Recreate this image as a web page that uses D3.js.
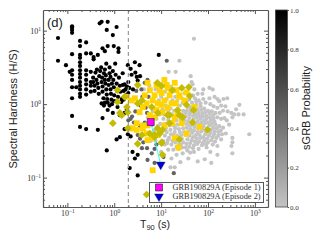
<!DOCTYPE html>
<html>
<head>
<meta charset="utf-8">
<script src="https://cdnjs.cloudflare.com/ajax/libs/d3/7.8.5/d3.min.js"></script>
<style>
html, body { margin: 0; padding: 0; background: white; overflow: hidden; }
svg { display: block; }
.tick line, .domain { stroke: #555; }
</style>
</head>
<body>
<svg width="320" height="240"></svg>
<script>
// values, as [log10 T90, log10 hardness]
var shortBursts = [
  [-1.2,.9],[-1.2,.59],[-.9,1.06],[-.9,1.04],[-.9,1.01],[-.9,.97],[-.73,.86],[-.73,.79],[-.6,.84],[-.9,.68],[-1.03,.53],
  [-.31,1.1],[-.27,1.12],[-.14,1.12],[-.16,1.01],[.05,1.05],[-.03,.94],[-.14,.79],[-.01,.79],[.09,.76],[.09,.71],[-.25,.76],[-.2,.72],
  [-.6,.69],[-.5,.69],[-.35,.67],[-.44,.64],[-.44,.61],[-.73,.67],[-.73,.63],[-.73,.57],[-.73,.52],[-.73,.46],[-.73,.41],
  [-.95,.44],[-.9,.46],[-.9,.4],[-.9,.33],[-.9,.23],[-.9,.08],[-.9,-.16],
  [-.6,.46],[-.6,.4],[-.6,.33],[-.6,.27],[-.6,.2],[-.6,.13],[-.73,.36],[-.73,.3],[-.73,.25],[-.73,.2],[-.73,.14],[-.73,.1],[-.81,.23],
  [-.5,.44],[-.5,.3],[-.5,.25],[-.5,.17],[-.45,.36],[-.45,.3],[-.42,.25],[-.42,.18],[-.4,.43],[-.37,.47],[-.38,.33],[-.36,.28],[-.34,.22],[-.33,.14],
  [-.32,.38],[-.3,.45],[-.28,.5],[-.27,.3],[-.26,.36],[-.25,.24],[-.25,.17],[-.23,.08],[-.22,.42],[-.2,.47],[-.2,.33],[-.19,.28],[-.18,.39],[-.17,.55],[-.17,.2],
  [-.16,.13],[-.15,.07],[-.14,.02],[-.12,.33],[-.12,.26],[-.1,.42],[-.1,.5],[-.08,.37],[-.08,.2],[-.07,.14],[-.06,.06],[-.05,0],[-.05,.28],[-.03,.45],[-.02,.33],
  [-.01,.23],[0,.12],[0,.04],[.02,.55],[.03,.4],[.05,.28],[.06,.18],[.07,-.04],[.08,.1],[.1,.36],[.12,.25],[.13,.17],[.15,.03],[.16,.07],
  [.18,.26],[.2,.18],[.22,.27],[.24,.2],[.25,.12],[.27,.24],[.3,.3],[.3,.15],[.32,.22],[.35,.05],[.37,.4],[.4,.2],[.45,.43],[.5,.32],[.55,.38],
  [.44,.57],[.29,.53],[.54,.53],[.18,.42],[.35,.48],[.48,.37],[.95,.67],[-.25,-.19],[-.14,-.08],[-.03,-.12],[.12,-.15],[.22,-.12],[-.2,.02],[-.1,-.02],[-.27,.01],[-.22,-.02],
  [-.73,-.31],[-.6,-.34],[-.35,-.35],[-.16,-.63],[.05,-.48],[.12,-.45],[.22,-.34],[.33,-.87],[.5,-.97],[.39,-.65],[.5,-.69],[.44,-.74],[.29,-.41],[.35,-.44],[.27,-.07],[.2,.06]
];
var midBursts = [
  [.65,.29],[.71,.33],[1.12,.59],[.58,.2],[.6,.1],[.47,.18],[.56,-.02],[.45,-.1],[.38,-.17],[.35,-.2],[.42,-.25],[.3,-.22],[.5,-.42],[.55,-.47],[.62,-.52],
  [.7,-.6],[.59,-.6],[.71,-.76],[.86,-.8],[.8,-.67],[.86,-.61],[.65,-.25],[.7,-.12],[.8,-.28],[.9,-.55],[1.27,-.94],[.73,.1],[.67,-.05],[.75,-.4],[.55,-.3],[1.05,-.72]
];
var longBursts = [
  [1.7,.89],[1.39,.59],[1.16,.44],[1.31,.44],[1.63,.38],[1.65,.3],[1.67,.27],[1.71,.2],[1.9,.2],[2.03,.22],[2.1,.2],[1.78,.14],[1.88,.14],[2.03,.08],[2.14,.1],[2.2,.07],[2.24,.04],
  [2.33,.07],[2.41,.08],[2.37,-.03],[2.67,-.01],[2.6,-.07],[2.5,-.12],[2.56,-.14],[2.65,-.14],[2.76,-.14],[2.35,-.19],[2.52,-.18],
  [2.88,-.41],[2.52,-.46],[2.5,-.57],[2.52,-.52],[2.52,-.67],[2.2,-.57],[2.2,-.69],[2.05,-.65],[2.07,-.8],[1.93,-.75],[1.78,-.78],[1.97,-.59],[1.8,-.61],[1.58,-.74],[1.41,-.79],
  [1.29,-.86],[1.2,-.86],[1.33,-.69],[1.22,-.74],[1.46,-.67],[1.56,-.63],[1.15,-.62],[1.08,-.55],[1,-.65],
  [1.6,.12],[1.72,.08],[1.8,.05],[1.9,.07],[1.95,.02],[2.05,0],[2.12,-.03],[2.2,-.05],[2.28,-.02],[1.66,.02],[1.75,-.01],[1.84,-.03],[1.92,-.06],[2,-.09],[2.08,-.1],[2.16,-.12],[2.25,-.12],[2.32,-.09],[2.42,-.1],
  [1.58,-.04],[1.64,-.08],[1.72,-.1],[1.8,-.12],[1.88,-.13],[1.96,-.16],[2.04,-.18],[2.12,-.2],[2.2,-.18],[2.28,-.2],[2.4,-.22],[2.45,-.28],
  [1.1,-.02],[1.2,-.06],[1.28,-.09],[1.4,-.02],[1.47,-.09],[1.52,-.12],[1.6,-.14],[1.68,-.16],[1.76,-.18],[1.84,-.2],[1.92,-.22],[2,-.25],[2.08,-.27],[2.16,-.28],[2.24,-.3],[2.32,-.32],
  [1.05,-.2],[1.15,-.22],[1.25,-.24],[1.33,-.22],[1.42,-.2],[1.5,-.22],[1.58,-.23],[1.66,-.25],[1.74,-.27],[1.82,-.28],[1.9,-.3],[1.98,-.33],[2.06,-.35],[2.14,-.37],[2.22,-.38],[2.3,-.41],[2.38,-.4],
  [.98,-.27],[1.1,-.33],[1.2,-.35],[1.3,-.33],[1.38,-.34],[1.47,-.33],[1.55,-.32],[1.63,-.34],[1.7,-.36],[1.78,-.38],[1.86,-.37],[1.94,-.41],[2.02,-.43],[2.1,-.45],[2.18,-.46],[2.28,-.48],
  [.95,-.42],[1.08,-.43],[1.17,-.46],[1.26,-.42],[1.34,-.43],[1.43,-.42],[1.52,-.42],[1.6,-.43],[1.68,-.45],[1.76,-.47],[1.84,-.46],[1.92,-.5],[2,-.52],[2.1,-.55],
  [1.04,-.5],[1.13,-.53],[1.22,-.55],[1.3,-.52],[1.38,-.55],[1.47,-.52],[1.54,-.54],[1.62,-.53],[1.7,-.56],[1.77,-.54],[1.87,-.56],
  [1.26,-.62],[1.37,-.61],[1.45,-.59],[1.62,-.66],[1.7,-.65],
  [.72,-.18],[.82,-.1],[.9,-.2],[.95,.05],[1,.1],[1.08,.17],[1.2,.24],[1.3,.1],[1.44,.08],[1.5,.15],[.85,-.36],[.97,-.14],[.78,-.5],[.88,.2],[.63,.2],[.75,.25],
  [1.62,-.04],[1.7,-.05],[1.78,-.07],[1.86,-.08],[1.94,-.11],[2.03,-.13],[2.11,-.15],[1.55,-.09],[1.63,-.11],[1.73,-.14],[1.81,-.16],[1.89,-.17],[1.97,-.2],[2.06,-.22],[2.14,-.24],
  [1.52,-.17],[1.6,-.19],[1.69,-.21],[1.78,-.23],[1.86,-.25],[1.94,-.26],[2.03,-.29],[2.11,-.32],[2.19,-.33],[2.27,-.36],[1.46,-.26],[1.55,-.27],[1.62,-.29],[1.71,-.31],[1.79,-.33],
  [1.88,-.34],[1.96,-.37],[2.05,-.39],[2.13,-.41],[2.22,-.43],[1.4,-.38],[1.49,-.38],[1.58,-.37],[1.66,-.39],[1.74,-.42],[1.82,-.42],[1.9,-.45],[1.98,-.47],[2.07,-.49],[2.15,-.51],
  [1.12,-.38],[1.21,-.41],[1.29,-.38],[1.36,-.49],[1.44,-.47],[1.56,-.48],[1.65,-.49],[1.72,-.51],[1.81,-.51],[1.89,-.53],[1.96,-.55],[1.08,-.27],[1.18,-.29],[1.27,-.29],[1.35,-.28],
  [1.03,-.07],[1.15,-.11],[1.23,-.14],[1.32,-.16],[1.44,-.14],[1.06,-.14],[.93,-.3],[.88,-.5],[1.01,-.36],[1.14,-.49],[1.24,-.5],[1.33,-.58],[1.42,-.55],[1.52,-.59],[1.6,-.58],[1.68,-.6],
  [1.34,.04],[1.46,.02],[1.54,.04],[1.6,.06],[1.68,.12],[1.75,.04],[1.84,.01],[1.12,.07],[1.24,.05]
];
var goldBursts = [
  [.71,.29],[.9,.26],[1.07,.33],[1.12,.26],[1.29,.29],[1.22,.19],[.97,.19],[.93,.01],[.82,.05],[.69,.01],[.61,-.04],[.44,.08],[.37,.05],[.27,.1],[1.03,-.11],[.9,-.08],[1.29,-.18],
  [.76,-.15],[.86,-.18],[.48,-.26],[.33,-.33],[.48,-.35],[.61,-.29],[.69,-.4],[.93,-.42],[.82,-.46],[.71,-.49],[1.54,-.4],[1.29,-.46],[1.33,.19],[1.39,.12],[1.14,.22],[1.54,.16],
  [1.01,.15],[1.18,.12],[1.39,.1],[1.07,.05],[1.01,-.01],[1.71,-.04],[1.35,-.12],[1.82,-.31],[1.37,-.59],[1.44,-.26],[1.24,-.26],[.39,-.33],[.61,-.33],[.82,-.9],[1.22,.01],[1.14,-.05],
  [.65,.12],[.76,.19],[.86,.12],[.54,-.11],[1.07,-.29],[.71,-.29],[1.5,.05],[1.31,.01]
];
var oliveBursts = [
  [.07,.19],[.5,.26],[.07,.03],[.22,.1],[.27,-.04],[.29,-.11],[.59,.05],[.5,.01],[.16,-.15],[.12,-.12],[.8,-.04],[-.03,-.26],[.29,-.33],[.5,-.54],[.69,-1.23],[.86,-.42],[.76,-.4],
  [1.01,.25],[1.24,.19],[1.44,.22],[1.59,.23],[1.61,.11],[1.35,-.08],[1.54,-.01],[1.18,-.15],[1.39,-.15],[1.69,-.08],[1.99,-.35],[1.39,-.48],[1.01,-.53],[1.03,-.69],[.97,-.4],[1.18,-.26],
  [1.67,-.25],[.92,.29],[1.46,-.18],[.93,-.12],[.59,-.42],[1.03,-.35],[.92,-.33],[.86,-.45],[1.01,-.52],[1.14,-.15]
];
var episodeT90 = [6, 9.8];
var episodeHardness = [.57, .15];
var episodeNames = ["GRB190829A (Episode 1)", "GRB190829A (Episode 2)"];
var probTicks = [0, .2, .4, .6, .8, 1];
var xMajor = [.1, 1, 10, 100, 1000];
var yMajor = [.1, 1, 10];

// 各種サイズ
var left = 43, right = 268, top_ = 10, bottom = 207;
var svg = d3.select("svg");

var x = d3.scaleLog().domain([.0302, 1905]).range([left, right]);
var y = d3.scaleLog().domain([.0398, 19.1]).range([bottom, top_]);
var probColor = d3.scaleLinear().domain([0, 1]).range(["#c4c4c4", "#000"]);
var probY = d3.scaleLinear().domain([0, 1]).range([bottom, top_]);

svg.append("clipPath").attr("id", "plot").append("rect")
    .attr("x", left).attr("y", top_).attr("width", right - left).attr("height", bottom - top_);
var plot = svg.append("g").attr("clip-path", "url(#plot)");

function drawDots(rows, color) {
    plot.append("g").selectAll("circle").data(rows).enter().append("circle")
	.attr("cx", function(d) { return x(Math.pow(10, d[0])); })
	.attr("cy", function(d) { return y(Math.pow(10, d[1])); })
	.attr("r", 2.1)
	.attr("fill", color);
}

drawDots(longBursts, probColor(0));
drawDots(midBursts, probColor(.5));
drawDots(shortBursts, probColor(1));

// エピソード間の線
plot.append("line")
    .attr("x1", x(episodeT90[0])).attr("y1", y(episodeHardness[0]))
    .attr("x2", x(episodeT90[1])).attr("y2", y(episodeHardness[1]))
    .attr("stroke", "#3ff").attr("stroke-width", 1);

var square = d3.symbol().type(d3.symbolSquare);
plot.append("g").selectAll("path").data(goldBursts).enter().append("path")
    .attr("d", square.size(34)())
    .attr("transform", function(d) { return "translate(" + x(Math.pow(10, d[0])) + "," + y(Math.pow(10, d[1])) + ")"; })
    .attr("fill", "#ffd400");
plot.append("g").selectAll("path").data(oliveBursts).enter().append("path")
    .attr("d", square.size(30)())
    .attr("transform", function(d) { return "translate(" + x(Math.pow(10, d[0])) + "," + y(Math.pow(10, d[1])) + ") rotate(45)"; })
    .attr("fill", "#c4bc00");

// 破線 T90 = 2 s
svg.append("line")
    .attr("x1", x(2)).attr("x2", x(2)).attr("y1", top_).attr("y2", bottom)
    .attr("stroke", "#999").attr("stroke-width", 1.2).attr("stroke-dasharray", "4,3");

function drawEpisode(g, cx, cy, i) {
    if (i == 0) {
	g.append("path").attr("d", square.size(49)())
	    .attr("transform", "translate(" + cx + "," + cy + ")")
	    .attr("fill", "#f0f").attr("stroke", "#222").attr("stroke-width", .6);
    } else {
	g.append("path").attr("d", d3.symbol().type(d3.symbolTriangle).size(34)())
	    .attr("transform", "translate(" + cx + "," + cy + ") rotate(180)")
	    .attr("fill", "#00d").attr("stroke", "#222").attr("stroke-width", .4);
    }
}
drawEpisode(svg, x(episodeT90[0]), y(episodeHardness[0]), 0);
drawEpisode(svg, x(episodeT90[1]), y(episodeHardness[1]), 1);

// 軸
function minorTicks(scale) {
    return scale.ticks().filter(function(v) { return Math.abs(Math.log10(v) % 1) > 1e-6; });
}
function superLabels(g) {
    g.selectAll("text").each(function(d) {
	var t = d3.select(this).text("").attr("font-family", "'Liberation Serif', serif").attr("font-size", 8).attr("fill", "#333");
	t.append("tspan").text("10");
	t.append("tspan").attr("dy", -3).attr("font-size", 5.5).text(String(Math.round(Math.log10(d))).replace("-", "\u2212"));
    });
}
var axisLayers = [
    [d3.axisBottom(x), 0, bottom, -4, -2, xMajor, minorTicks(x)],
    [d3.axisTop(x), 0, top_, -4, -2, xMajor, minorTicks(x)],
    [d3.axisLeft(y), left, 0, -4, -2, yMajor, minorTicks(y)],
    [d3.axisRight(y), right, 0, -4, -2, yMajor, minorTicks(y)]
];
axisLayers.forEach(function(a, i) {
    svg.append("g").attr("transform", "translate(" + a[1] + "," + a[2] + ")")
	.call(a[0].tickValues(a[6]).tickSize(a[4]).tickSizeOuter(0).tickFormat(""))
	.call(function(g) { g.select(".domain").attr("stroke-width", 1.2); });
    var major = svg.append("g").attr("transform", "translate(" + a[1] + "," + a[2] + ")")
	.call(a[0].tickValues(a[5]).tickSize(a[3]).tickSizeOuter(0).tickPadding(i == 0 ? 3 : 2)
	      .tickFormat(function(d) { return i < 1 || i == 2 ? "10" : ""; }));
    major.select(".domain").remove();
    if (i == 0 || i == 2) major.call(superLabels);
});

svg.append("text").attr("x", 47).attr("y", 27)
    .attr("font-family", "'Liberation Sans', sans-serif").attr("font-size", 13).attr("fill", "#222").text("(d)");

svg.append("text").attr("transform", "translate(17,109) rotate(-90)").attr("text-anchor", "middle")
    .attr("font-family", "'Liberation Sans', sans-serif").attr("font-size", 11).attr("fill", "#222")
    .text("Spectral Hardness (H/S)");

var xLabel = svg.append("text").attr("x", 155).attr("y", 228).attr("text-anchor", "middle")
    .attr("font-family", "'Liberation Sans', sans-serif").attr("font-size", 10.5).attr("fill", "#222");
xLabel.append("tspan").text("T");
xLabel.append("tspan").attr("dy", 2).attr("font-size", 7.5).text("90");
xLabel.append("tspan").attr("dy", -2).text(" (s)");

// 凡例
var legend = svg.append("g");
legend.append("rect").attr("x", 149.5).attr("y", 182.5).attr("width", 114).attr("height", 20)
    .attr("fill", "white").attr("stroke", "#555").attr("stroke-width", 1);
episodeNames.forEach(function(name, i) {
    drawEpisode(legend, 159, 187.5 + i * 9, i);
    legend.append("text").attr("x", 172.5).attr("y", 190 + i * 9)
	.attr("font-family", "'Liberation Serif', serif").attr("font-size", 8.3).attr("fill", "#333")
	.text(name);
});

// カラーバー
var grad = svg.append("linearGradient").attr("id", "prob").attr("x1", 0).attr("x2", 0).attr("y1", 1).attr("y2", 0);
grad.append("stop").attr("offset", 0).attr("stop-color", probColor(0));
grad.append("stop").attr("offset", 1).attr("stop-color", probColor(1));
svg.append("rect").attr("x", 275.5).attr("y", top_).attr("width", 12).attr("height", bottom - top_)
    .attr("fill", "url(#prob)").attr("stroke", "#444").attr("stroke-width", .8);
var bar = svg.append("g").attr("transform", "translate(287.5,0)")
    .call(d3.axisRight(probY).tickValues(probTicks).tickSize(1.5).tickPadding(1).tickFormat(d3.format(".1f")));
bar.select(".domain").remove();
bar.selectAll("text").attr("font-family", "'Liberation Serif', serif").attr("font-size", 7).attr("fill", "#333");

svg.append("text").attr("transform", "translate(310,108) rotate(-90)").attr("text-anchor", "middle")
    .attr("font-family", "'Liberation Sans', sans-serif").attr("font-size", 11).attr("fill", "#222")
    .text("sGRB Probability");
</script>
</body>
</html>
